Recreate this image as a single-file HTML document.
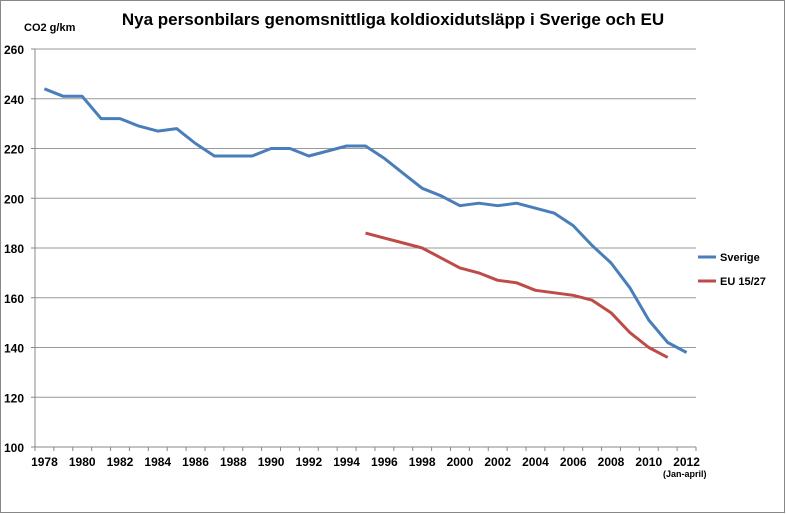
<!DOCTYPE html>
<html><head><meta charset="utf-8"><style>
html,body{margin:0;padding:0;background:#fff}
svg{display:block;font-family:"Liberation Sans",Arial,sans-serif}
</style></head><body>
<svg id="s" width="786" height="514" xmlns="http://www.w3.org/2000/svg">
<rect x="0.5" y="0.5" width="784" height="512" fill="#fff" stroke="#888"/>
<text x="393" y="25" text-anchor="middle" font-size="17" font-weight="bold" fill="#000">Nya personbilars genomsnittliga koldioxidutsläpp i Sverige och EU</text>
<text x="24" y="31" font-size="11" font-weight="bold" fill="#000">CO2 g/km</text>
<g id="g"></g>
<line x1="698" y1="257" x2="716" y2="257" stroke="#4a7ebb" stroke-width="3"/>
<text x="720" y="261" font-size="11" font-weight="bold">Sverige</text>
<line x1="698" y1="281" x2="716" y2="281" stroke="#be4b48" stroke-width="3"/>
<text x="720" y="285" font-size="11" font-weight="bold">EU 15/27</text>
<text x="663" y="477" font-size="9" font-weight="bold">(Jan-april)</text>
</svg>
<script>
var g=document.getElementById('g'),h='';
function Y(v){return 447-(v-100)*398/160;}
function X(i){return 35+661/35*(i+0.5);}
for(var v=100;v<=260;v+=20){var y=Y(v);
 h+='<line x1="35" y1="'+y+'" x2="696" y2="'+y+'" stroke="'+(v==100?'#888':'#999')+'" stroke-width="1"/>';
 h+='<line x1="31" y1="'+y+'" x2="35" y2="'+y+'" stroke="#888"/>';
 h+='<text x="4" y="'+(y+5)+'" font-size="12" font-weight="bold">'+v+'</text>';}
h+='<line x1="35" y1="49" x2="35" y2="447" stroke="#888"/>';
for(var i=0;i<=35;i++){var x=35+661/35*i;h+='<line x1="'+x+'" y1="447" x2="'+x+'" y2="451" stroke="#888"/>';}
for(var yr=1978;yr<=2012;yr+=2){h+='<text x="'+X(yr-1978)+'" y="466" font-size="12" font-weight="bold" text-anchor="middle">'+yr+'</text>';}
var s=[244,241,241,232,232,229,227,228,222,217,217,217,220,220,217,219,221,221,216,210,204,201,197,198,197,198,196,194,189,181,174,164,151,142,138];
var e=[186,184,182,180,176,172,170,167,166,163,162,161,159,154,146,140,136];
function pl(a,o,c){var p=a.map(function(v,i){return X(i+o).toFixed(1)+','+Y(v).toFixed(1)}).join(' ');
 return '<polyline points="'+p+'" fill="none" stroke="'+c+'" stroke-width="3" stroke-linejoin="round"/>';}
h+=pl(s,0,'#4a7ebb')+pl(e,17,'#be4b48');
g.innerHTML=h;
</script>
</body></html>
